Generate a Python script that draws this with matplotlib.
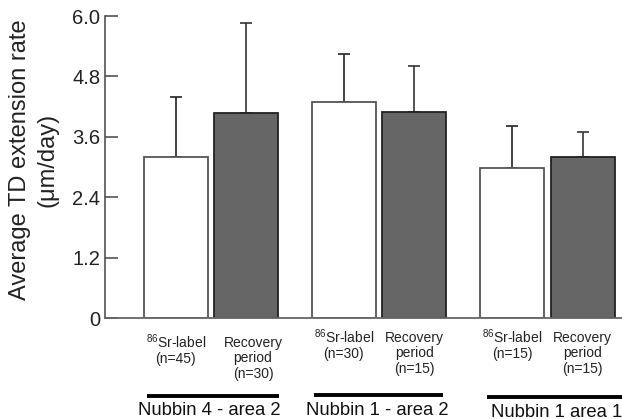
import matplotlib
matplotlib.use("Agg")
import matplotlib.pyplot as plt
import numpy as np

plt.rcParams['font.family'] = ['Liberation Sans', 'DejaVu Sans']
plt.rcParams['mathtext.fontset'] = 'custom'
plt.rcParams['mathtext.rm'] = 'Liberation Sans'
plt.rcParams['mathtext.default'] = 'regular'

# ---- data ----
groups = ['Nubbin 4 - area 2', 'Nubbin 1 - area 2', 'Nubbin 1 area 1']
label_means = [3.19, 4.29, 2.99]
label_err = [1.21, 0.95, 0.83]
recovery_means = [4.07, 4.09, 3.19]
recovery_err = [1.79, 0.92, 0.51]
label_texts = [r'$^{86}$Sr-label' + '\n(n=45)', r'$^{86}$Sr-label' + '\n(n=30)', r'$^{86}$Sr-label' + '\n(n=15)']
recovery_texts = ['Recovery\nperiod\n(n=30)', 'Recovery\nperiod\n(n=15)', 'Recovery\nperiod\n(n=15)']
yticks = [0, 1.2, 2.4, 3.6, 4.8, 6.0]
ytick_labels = ['0', '1.2', '2.4', '3.6', '4.8', '6.0']

# ---- figure ----
W, H = 622, 419
fig = plt.figure(figsize=(W / 100, H / 100), dpi=100)
ax_left, ax_right, ax_top, ax_bot = 105, 622, 16, 318
ax = fig.add_axes([ax_left / W, 1 - ax_bot / H, (ax_right - ax_left) / W, (ax_bot - ax_top) / H])

x = np.arange(len(groups))
w = 0.381
off = 0.21

ax.bar(x - off, label_means, w, color='white', edgecolor='#555555', linewidth=1.3, zorder=2)
ax.bar(x + off, recovery_means, w, color='#666666', edgecolor='#222222', linewidth=1.3, zorder=2)
ax.errorbar(x - off, label_means, yerr=[np.zeros(3), label_err], fmt='none',
            ecolor='#222222', elinewidth=1.2, capsize=4, capthick=1.2, zorder=1)
ax.errorbar(x + off, recovery_means, yerr=[np.zeros(3), recovery_err], fmt='none',
            ecolor='#333333', elinewidth=1.2, capsize=4, capthick=1.2, zorder=1)

ax.set_xlim(-0.63, 2.444)
ax.set_ylim(0, 6.0)
ax.set_yticks(yticks)
ax.set_yticklabels(ytick_labels, fontsize=14.5, color='#222222')
ax.set_xticks([])
ax.tick_params(axis='y', direction='in', length=9.5, width=1.1, color='#444444', pad=3.5)
ax.spines['top'].set_visible(False)
ax.spines['right'].set_visible(False)
ax.spines['left'].set_color('#444444')
ax.spines['bottom'].set_color('#666666')
ax.spines['left'].set_linewidth(1.1)
ax.spines['bottom'].set_linewidth(1.3)

trans = ax.get_xaxis_transform()
def ax_y(px):
    return (ax_bot - px) / (ax_bot - ax_top)

# category labels
first_base = [348, 343, 343]
line_gap = 15.3
for i in range(len(groups)):
    for j, line in enumerate(label_texts[i].split('\n')):
        ax.text(x[i] - off, ax_y(first_base[i] + j * line_gap), line, transform=trans,
                ha='center', va='baseline', fontsize=10, color='#222222', clip_on=False)
    for j, line in enumerate(recovery_texts[i].split('\n')):
        ax.text(x[i] + off + (0.04 if i == 0 else 0), ax_y(first_base[i] - 1 + j * line_gap), line,
                transform=trans, ha='center', va='baseline', fontsize=10, color='#222222', clip_on=False)

# group lines & labels
line_ext = [(-0.382, 0.405), (-0.388, 0.38), (-0.36, 0.46)]
line_y = [396, 395, 397]
glabel_y = [410, 410, 412]
glabel_dx = [-0.013, -0.013, 0.055]
for i, g in enumerate(groups):
    ax.plot([x[i] + line_ext[i][0], x[i] + line_ext[i][1]], [ax_y(line_y[i])] * 2, transform=trans,
            color='black', linewidth=2.8, solid_capstyle='butt', clip_on=False)
    ax.text(x[i] + glabel_dx[i], ax_y(glabel_y[i]), g, transform=trans, ha='center', va='center',
            fontsize=13.3, color='#111111', clip_on=False)

# y label
fig.text(34 / W, 1 - 160 / H, 'Average TD extension rate\n(\u03bcm/day)', rotation=90,
         ha='center', va='center', fontsize=17, linespacing=1.3, color='#222222')

fig.savefig('out.png', dpi=100)
